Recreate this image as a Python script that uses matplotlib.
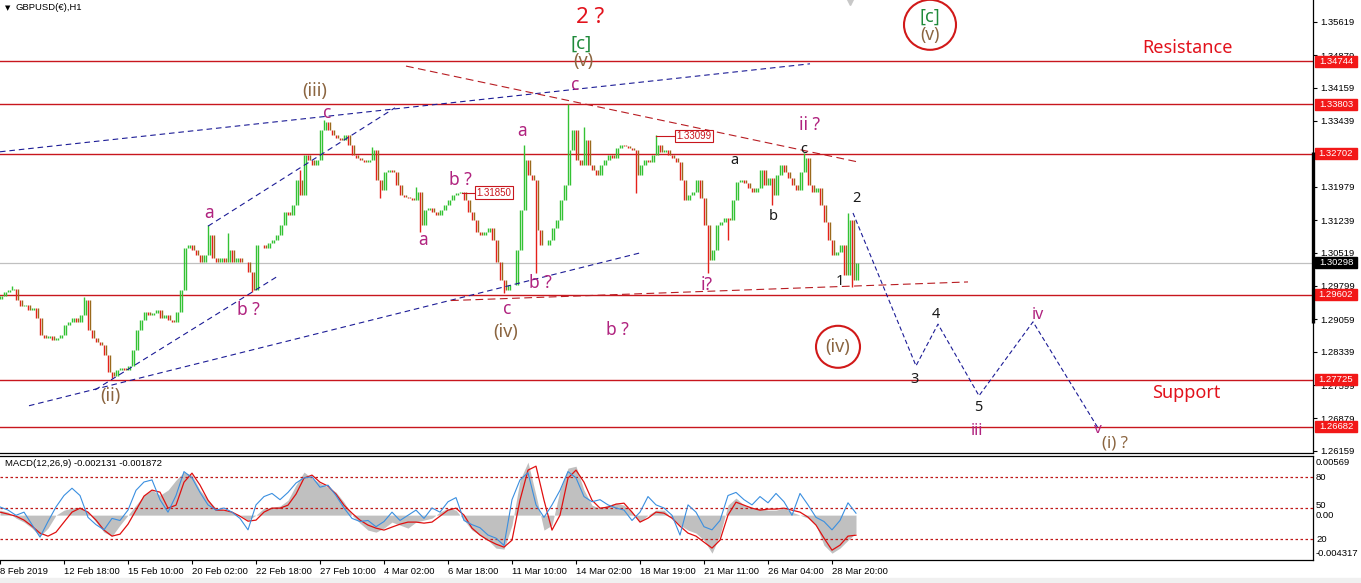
import numpy as np
import matplotlib
matplotlib.use('Agg')
import matplotlib.pyplot as plt
from matplotlib.patches import Rectangle, Ellipse

plt.rcParams['font.family'] = ['Liberation Sans', 'DejaVu Sans']

# ---------------- data (x axis = hourly bar index) ----------------
BAR_STEP = 4          # one close every 4 hourly bars
first_open = 1.2950
closes = [
    1.2957, 1.2966, 1.2970, 1.2972, 1.2948, 1.2935, 1.2937, 1.2926, 1.2930, 1.2908,
    1.2871, 1.2864, 1.2869, 1.2860, 1.2864, 1.2871, 1.2893, 1.2900, 1.2908, 1.2900,
    1.2915, 1.2948, 1.2882, 1.2864, 1.2855, 1.2849, 1.2827, 1.2789, 1.2780, 1.2794,
    1.2798, 1.2794, 1.2802, 1.2838, 1.2882, 1.2904, 1.2922, 1.2915, 1.2919, 1.2926,
    1.2908, 1.2915, 1.2904, 1.2900, 1.2922, 1.2970, 1.3063, 1.3069, 1.3058, 1.3047,
    1.3032, 1.3047, 1.3091, 1.3040, 1.3032, 1.3040, 1.3032, 1.3058, 1.3032, 1.3040,
    1.3032, 1.3032, 1.3010, 1.2970, 1.3069, 1.3069, 1.3063, 1.3074, 1.3080, 1.3091,
    1.3113, 1.3142, 1.3135, 1.3157, 1.3213, 1.3180, 1.3268, 1.3257, 1.3246, 1.3257,
    1.3323, 1.3340, 1.3323, 1.3312, 1.3305, 1.3301, 1.3312, 1.3290, 1.3268, 1.3261,
    1.3257, 1.3252, 1.3257, 1.3279, 1.3213, 1.3191, 1.3230, 1.3235, 1.3230, 1.3202,
    1.3180, 1.3175, 1.3173, 1.3169, 1.3186, 1.3113, 1.3147, 1.3151, 1.3142, 1.3135,
    1.3147, 1.3157, 1.3169, 1.3180, 1.3184, 1.3186, 1.3169, 1.3142, 1.3124, 1.3098,
    1.3091, 1.3098, 1.3107, 1.3080, 1.3032, 1.2992, 1.2970, 1.2981, 1.2981, 1.3058,
    1.3147, 1.3257, 1.3224, 1.3213, 1.3102, 1.3069, 1.3069, 1.3080, 1.3107, 1.3124,
    1.3169, 1.3202, 1.3279, 1.3323, 1.3257, 1.3246, 1.3301, 1.3246, 1.3235, 1.3224,
    1.3246, 1.3257, 1.3268, 1.3261, 1.3283, 1.3290, 1.3287, 1.3283, 1.3279, 1.3224,
    1.3246, 1.3257, 1.3252, 1.3268, 1.3290, 1.3274, 1.3279, 1.3268, 1.3261, 1.3252,
    1.3213, 1.3169, 1.3180, 1.3186, 1.3213, 1.3173, 1.3113, 1.3036, 1.3058, 1.3113,
    1.3120, 1.3129, 1.3124, 1.3169, 1.3208, 1.3213, 1.3206, 1.3195, 1.3186, 1.3195,
    1.3235, 1.3202, 1.3217, 1.3180, 1.3224, 1.3246, 1.3230, 1.3217, 1.3202, 1.3191,
    1.3230, 1.3261, 1.3202, 1.3186, 1.3195, 1.3157, 1.3120, 1.3080, 1.3047, 1.3054,
    1.3069, 1.3003, 1.3124, 1.2992, 1.3030,
]
# wick extremes that stick out of the bodies
spike_hours = [12, 84, 112, 208, 228, 252, 300, 324, 372, 380, 416, 420, 460,
               504, 524, 536, 568, 584, 636, 656, 708, 728, 772, 804, 848, 852]
spike_prices = [1.2979, 1.2955, 1.2776, 1.3113, 1.3096, 1.2966, 1.3235, 1.3345,
                1.3285, 1.3173, 1.3197, 1.3098, 1.3186, 1.2963, 1.3290, 1.3008,
                1.3380, 1.3329, 1.3184, 1.3312, 1.3008, 1.3080, 1.3157, 1.3272,
                1.3140, 1.2977]

levels = [1.34744, 1.33803, 1.32702, 1.29602, 1.27725, 1.26682]
last_price = 1.30298
price_ticks = [1.35619, 1.34879, 1.34159, 1.33439, 1.32709, 1.31979, 1.31239,
               1.30519, 1.29799, 1.29059, 1.28339, 1.27599, 1.26879, 1.26159]

# MACD window, one value every 8 hours
MACD_STEP = 8
macd_hist = [
    0.00048, 0.00029, -0.00029, -0.00067, -0.00125, -0.00202, -0.00125, 0.0, 0.00048, 0.00067,
    0.00077, 0.00029, -0.00067, -0.00164, -0.00202, -0.00096, 0.0, 0.00096, 0.00192, 0.00241,
    0.00192, 0.00241, 0.00337, 0.00414, 0.00385, 0.00241, 0.00144, 0.00067, 0.00048, 0.00029,
    0.0, -0.00048, 0.0, 0.00067, 0.00077, 0.00087, 0.00144, 0.00289, 0.00414, 0.00356,
    0.00308, 0.00269, 0.00221, 0.00125, 0.0, -0.00077, -0.00144, -0.00164, -0.00125, -0.00067,
    -0.00096, -0.00125, -0.00067, -0.00048, -0.00029, 0.00029, 0.00067, 0.00048, -0.00048, -0.00144,
    -0.00192, -0.00241, -0.00317, -0.00327, -0.00096, 0.00337, 0.00510, 0.00192, -0.00144, -0.00096,
    0.00241, 0.00452, 0.00471, 0.00241, 0.00096, 0.00067, 0.00096, 0.00115, 0.00096, 0.00029,
    -0.00067, 0.0, 0.00048, 0.00048, -0.00029, -0.00096, -0.00144, -0.00173, -0.00241, -0.00366,
    -0.00192, 0.00096, 0.00164, 0.00096, 0.00067, 0.00067, 0.00048, 0.00048, 0.00067, 0.00029,
    0.0, -0.00029, -0.00096, -0.00289, -0.00366, -0.00317, -0.00241, -0.00173,
]
macd_signal = [
    0.00029, 0.0001, -0.0001, -0.00048, -0.00106, -0.00173, -0.00202, -0.00164, -0.00067, 0.00029,
    0.00067, 0.00029, -0.00048, -0.00144, -0.00202, -0.00183, -0.00087, 0.00048, 0.00183, 0.00241,
    0.00221, 0.00067, 0.00096, 0.00317, 0.00404, 0.00289, 0.00144, 0.00048, 0.00048, 0.00029,
    -0.0001, -0.00058, -0.00048, 0.00029, 0.00067, 0.00067, 0.00096, 0.00202, 0.00356, 0.00385,
    0.00317, 0.00279, 0.00202, 0.00096, 0.00019, -0.00048, -0.00096, -0.00125, -0.00144, -0.00115,
    -0.00087, -0.00067, -0.00067, -0.00077, -0.00067, -0.0001, 0.00048, 0.00067, 0.0, -0.00125,
    -0.00192, -0.00241, -0.00279, -0.00308, -0.00241, 0.00144, 0.00433, 0.00471, 0.00144, -0.00144,
    0.0, 0.00356, 0.00433, 0.00317, 0.00144, 0.00067, 0.00077, 0.00106, 0.00115, 0.00029,
    -0.00067, -0.00029, 0.00029, 0.00019, -0.00029, -0.00106, -0.00173, -0.00202, -0.0026, -0.00317,
    -0.00241, 0.0, 0.00125, 0.00096, 0.00067, 0.00048, 0.00058, 0.00058, 0.00067, 0.00048,
    0.00029, -0.00019, -0.00096, -0.00221, -0.00337, -0.00289, -0.00202, -0.00193,
]
# blue oscillator drawn on the same window (0-100 scale)
osc_line = [
    51, 48, 43, 46, 34, 22, 37, 51, 62, 69,
    62, 41, 34, 29, 40, 38, 48, 67, 75, 77,
    58, 46, 62, 85, 79, 65, 53, 48, 50, 46,
    40, 29, 53, 61, 64, 58, 65, 74, 79, 80,
    70, 72, 62, 50, 40, 37, 38, 32, 37, 46,
    38, 43, 48, 40, 50, 46, 56, 60, 38, 34,
    31, 24, 21, 14, 58, 77, 84, 53, 41, 53,
    67, 85, 79, 61, 56, 58, 53, 50, 48, 38,
    46, 61, 53, 50, 43, 24, 53, 46, 32, 29,
    38, 62, 65, 58, 53, 61, 55, 64, 56, 43,
    64, 53, 41, 37, 29, 38, 55, 45,
]
osc_levels = [80, 50, 20]

time_ticks = [0, 64, 128, 192, 256, 320, 384, 448, 512, 576, 640, 704, 768, 832]
time_labels = ['8 Feb 2019', '12 Feb 18:00', '15 Feb 10:00', '20 Feb 02:00',
               '22 Feb 18:00', '27 Feb 10:00', '4 Mar 02:00', '6 Mar 18:00',
               '11 Mar 10:00', '14 Mar 02:00', '18 Mar 19:00', '21 Mar 11:00',
               '26 Mar 04:00', '28 Mar 20:00']

# drawn trendlines: (hour, price) end points
blue_trend = [((0, 1.3275), (810, 1.3469)),
              ((29, 1.2715), (640, 1.3052)),
              ((95, 1.2750), (278, 1.3001)),
              ((208, 1.3111), (395, 1.3372))]
red_trend = [((406, 1.3464), (857, 1.3253)),
             ((451, 1.2947), (968, 1.2988))]
proj_hours = [853, 916, 938, 979, 1033, 1098]
proj_prices = [1.3140, 1.2803, 1.2895, 1.2737, 1.2900, 1.2666]

# ---------------- styling ----------------
W, H = 1361, 583
PX = 1 / 4535.0          # price per pixel in the main window
GREEN, RED, BROWN = '#33c233', '#e5211b', '#9a6a1c'
LVL_RED = '#c8161d'
MAG, BRN, DGREEN = '#b0237f', '#8b6540', '#1f8a3a'
TXT_RED = '#e2121c'
NAVY = '#1c1c96'
WAVE_FONT = ['Noto Sans', 'DejaVu Sans']

fig = plt.figure(figsize=(W / 100, H / 100), dpi=100)
fig.patch.set_facecolor('white')
ax = fig.add_axes([0, 1 - 453 / H, 1313 / W, 453 / H])
axm = fig.add_axes([0, 1 - 560 / H, 1313 / W, 104 / H])
ax.set_xlim(0, 1313)
ax.set_ylim(1.26108, 1.36097)
axm.set_xlim(0, 1313)
axm.set_ylim(-0.004317, 0.00569)

# ---- price bars
hours = np.arange(len(closes)) * BAR_STEP
c = np.array(closes)
o = np.concatenate([[first_open], c[:-1]])
body_hi = np.maximum(o, c)
body_lo = np.minimum(o, c)
hi, lo = body_hi.copy(), body_lo.copy()
for h, p in zip(spike_hours, spike_prices):
    i = h // BAR_STEP
    hi[i] = max(hi[i], p)
    lo[i] = min(lo[i], p)
up = c >= o
ax.vlines(hours[up], lo[up], hi[up], color=GREEN, lw=1.0, zorder=3)
ax.vlines(hours[up] + 2, body_lo[up], body_hi[up], color=GREEN, lw=1.0, zorder=3)
ax.vlines(hours[~up], lo[~up], hi[~up], color=RED, lw=1.0, zorder=3)
ax.vlines(hours[~up] + 2, body_lo[~up], body_hi[~up], color=BROWN, lw=1.0, zorder=3)

# ---- horizontal levels
for lvl in levels:
    ax.axhline(lvl, color=LVL_RED, lw=1.0, zorder=2)
ax.axhline(last_price, color='#c0c0c0', lw=0.9, zorder=1)

# ---- trendlines and projected path
for (x0, y0), (x1, y1) in blue_trend:
    ax.plot([x0, x1], [y0, y1], color=NAVY, lw=0.8, dashes=(5, 3.5), zorder=4)
for (x0, y0), (x1, y1) in red_trend:
    ax.plot([x0, x1], [y0, y1], color='#b81c22', lw=0.8, dashes=(7, 4), zorder=4)
ax.plot(proj_hours, proj_prices, color=NAVY, lw=0.8, dashes=(4, 2.5), zorder=4)

# ---- wave labels
def lab(s, h, p, color, size):
    ax.text(h, p, s, color=color, fontsize=size, ha='center', va='center',
            family=WAVE_FONT, zorder=6)

lab('2 ?', 590, 1.3572, TXT_RED, 16)
lab('[c]', 581, 1.3513, DGREEN, 13.5)
lab('(v)', 583, 1.3475, BRN, 13)
lab('c', 575, 1.3422, MAG, 12.5)
lab('(iii)', 315, 1.3409, BRN, 13)
lab('c', 327, 1.3361, MAG, 12.5)
lab('a', 209, 1.3140, MAG, 12.5)
lab('b ?', 248, 1.2926, MAG, 12.5)
lab('(ii)', 110, 1.2736, BRN, 13)
lab('a', 423, 1.3080, MAG, 12.5)
lab('b ?', 460, 1.3213, MAG, 12.5)
lab('a', 522, 1.3321, MAG, 12.5)
lab('b ?', 540, 1.2986, MAG, 12.5)
lab('c', 507, 1.2928, MAG, 12.5)
lab('(iv)', 506, 1.2878, BRN, 13)
lab('b ?', 617, 1.2882, MAG, 12.5)
lab('ii ?', 810, 1.3334, MAG, 12.5)
lab('c', 804, 1.3281, '#1a1a1a', 10.5)
lab('a', 734, 1.3255, '#1a1a1a', 10.5)
lab('b', 773, 1.3133, '#1a1a1a', 10.5)
lab('i?', 707, 1.2981, MAG, 12.5)
lab('2', 856, 1.3171, '#1a1a1a', 10.5)
lab('1', 840, 1.2988, '#1a1a1a', 10.5)
lab('(iv)', 838, 1.2845, BRN, 13)
lab('[c]', 930, 1.3572, DGREEN, 13)
lab('(v)', 930, 1.3533, BRN, 12.5)
lab('3', 915, 1.2772, '#1a1a1a', 10.5)
lab('4', 936, 1.2917, '#1a1a1a', 10.5)
lab('5', 978, 1.2712, '#1a1a1a', 10.5)
lab('iii', 977, 1.2659, MAG, 11.5)
lab('iv', 1038, 1.2915, MAG, 11.5)
lab('v', 1098, 1.2663, MAG, 11)
lab('(i) ?', 1115, 1.2632, BRN, 12)
lab('Resistance', 1187, 1.3504, TXT_RED, 13)
lab('Support', 1186, 1.2743, TXT_RED, 13)

for cx, cy, w, hgt in [(838, 1.2845, 44, 42), (930, 1.3555, 52, 50)]:
    ax.add_patch(Ellipse((cx, cy), w, hgt * PX, fill=False, ec='#d11919', lw=1.5, zorder=6))

# boxed price notes
for h0, h1, p, s in [(462, 494, 1.31850, '1.31850'), (656, 694, 1.33099, '1.33099')]:
    ax.plot([h0, h1 - 20], [p, p], color=LVL_RED, lw=0.8, zorder=5)
    ax.text(h1, p, s, color=LVL_RED, fontsize=7, ha='center', va='center', zorder=6,
            bbox=dict(boxstyle='square,pad=0.15', fc='white', ec=LVL_RED, lw=0.8))

# ---- right price scale
ax.yaxis.tick_right()
ax.set_yticks(price_ticks)
ax.set_yticklabels([f'{t:.5f}' for t in price_ticks])
ax.tick_params(axis='y', length=3, width=0.8, labelsize=6.8, pad=2, direction='out')
ax.set_xticks([])
for side in ['left', 'top']:
    ax.spines[side].set_visible(False)
for side in ['right', 'bottom']:
    ax.spines[side].set_linewidth(0.9)

for lvl in levels:
    ax.add_patch(Rectangle((1315, lvl - 5.5 * PX), 42, 11 * PX, color='#f21818',
                           clip_on=False, zorder=7))
    ax.text(1336, lvl, f'{lvl:.5f}', color='white', fontsize=6.8, ha='center',
            va='center', clip_on=False, zorder=8)
ax.add_patch(Rectangle((1315, last_price - 5.5 * PX), 42, 11 * PX, color='black',
                       clip_on=False, zorder=7))
ax.text(1336, last_price, f'{last_price:.5f}', color='white', fontsize=6.8,
        ha='center', va='center', clip_on=False, zorder=8)
# the dark bar on the scale edge and the chart-shift marker
ax.plot([1313, 1313], [1.3275, 1.2898], color='black', lw=2.4, clip_on=False,
        solid_capstyle='butt', zorder=7)
ax.plot([850], [1.36097], marker='v', ms=7, color='#c8c8c8', clip_on=False, zorder=7)

fig.text(5 / W, 1 - 8 / H, '▼', fontsize=5, va='center', family=['DejaVu Sans'])
fig.text(15 / W, 1 - 8 / H, 'GBPUSD(€),H1', fontsize=6.8, va='center')

# ---------------- MACD window ----------------
mh = np.arange(len(macd_hist)) * MACD_STEP
axm.fill_between(mh, 0, macd_hist, color='#c0c0c0', lw=0, zorder=2)
axm.plot(mh, macd_signal, color='#e01010', lw=0.9, zorder=4)
osc = axm.twinx()
osc.set_ylim(0, 100)
osc.set_axis_off()
for lv in osc_levels:
    osc.axhline(lv, color='#c01818', lw=0.9, dashes=(2, 2), zorder=1)
osc.plot(mh, osc_line, color='#3a8fe0', lw=0.8, zorder=3)

axm.set_yticks([])
axm.spines['left'].set_visible(False)
for side in ['right', 'bottom', 'top']:
    axm.spines[side].set_linewidth(0.9)
axm.set_xticks(time_ticks)
axm.set_xticklabels(time_labels)
axm.tick_params(axis='x', length=3, width=0.8, labelsize=6.8, pad=2)
for t in axm.get_xticklabels():
    t.set_ha('left')

fig.text(5 / W, 1 - 464 / H, 'MACD(12,26,9) -0.002131 -0.001872', fontsize=6.8, va='center')
for s, ypx in [('0.00569', 462.5), ('80', 477), ('50', 506), ('0.00', 515),
               ('20', 539), ('-0.004317', 554)]:
    fig.text(1316 / W, 1 - ypx / H, s, fontsize=6.8, va='center')

fig.add_artist(Rectangle((0, 0), 1, 5 / H, transform=fig.transFigure,
                         color='#f0f0f0', zorder=0))

fig.savefig('out.png', dpi=100, facecolor='white')
